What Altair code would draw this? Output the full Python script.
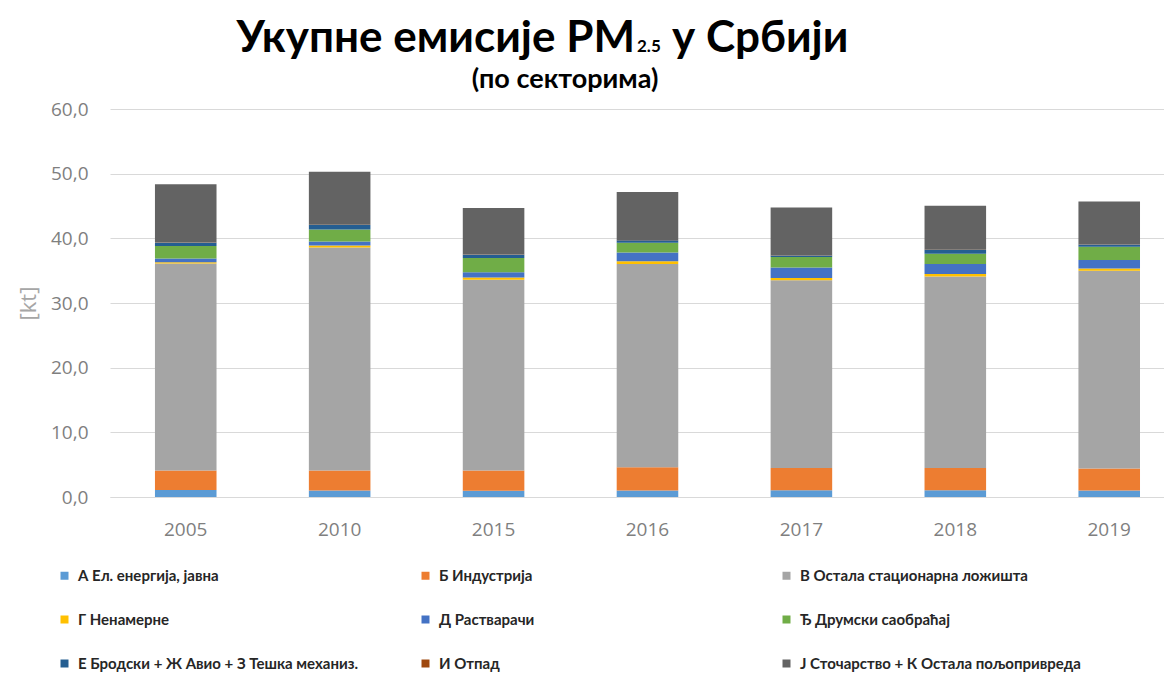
import altair as alt
import pandas as pd

years = ["2005", "2010", "2015", "2016", "2017", "2018", "2019"]
sectors = [
    "А Ел. енергија, јавна",
    "Б Индустрија",
    "В Остала стационарна ложишта",
    "Г Ненамерне",
    "Д Растварачи",
    "Ђ Друмски саобраћај",
    "Е Бродски + Ж Авио + З Тешка механиз.",
    "И Отпад",
    "Ј Сточарство + К Остала пољопривреда",
]
colors = ["#5B9BD5", "#ED7D31", "#A5A5A5", "#FFC000", "#4472C4",
          "#70AD47", "#255E91", "#9E480E", "#636363"]

v_A = [1.10, 1.00, 0.95, 1.00, 1.05, 1.05, 1.00]
v_B = [3.00, 3.10, 3.15, 3.60, 3.45, 3.45, 3.40]
v_V = [32.00, 34.50, 29.50, 31.45, 29.00, 29.60, 30.60]
v_G = [0.20, 0.30, 0.35, 0.40, 0.35, 0.40, 0.35]
v_D = [0.60, 0.60, 0.80, 1.35, 1.65, 1.55, 1.30]
v_DJ = [1.90, 1.85, 2.20, 1.50, 1.60, 1.55, 2.05]
v_E = [0.50, 0.70, 0.50, 0.40, 0.25, 0.60, 0.35]
v_I = [0.05, 0.05, 0.05, 0.05, 0.05, 0.05, 0.05]
v_J = [9.00, 8.20, 7.20, 7.40, 7.35, 6.80, 6.60]

series = [v_A, v_B, v_V, v_G, v_D, v_DJ, v_E, v_I, v_J]

title_main = "Укупне емисије PM"
title_sub = "2.5"
title_end = "у Србији"
subtitle = "(по секторима)"
y_title = "[kt]"

rows = []
for si, (name, vals) in enumerate(zip(sectors, series)):
    for yr, v in zip(years, vals):
        rows.append({"year": yr, "sector": name, "value": v, "idx": si})
df = pd.DataFrame(rows)

bars = alt.Chart(df).mark_bar().encode(
    x=alt.X("year:N", sort=years, title=None,
            scale=alt.Scale(paddingInner=0.6, paddingOuter=0.224, align=0.652),
            axis=alt.Axis(labelAngle=0, labelFontSize=19, labelFont="Open Sans",
                          labelColor="#7F7F7F", labelPadding=23, ticks=False,
                          domainColor="#D9D9D9", domainWidth=1.2, grid=False)),
    y=alt.Y("value:Q", stack="zero", title=y_title,
            scale=alt.Scale(domain=[0, 60], nice=False),
            axis=alt.Axis(values=[0, 10, 20, 30, 40, 50, 60],
                          labelExpr="replace(format(datum.value, '.1f'), '.', ',')",
                          labelFontSize=19, labelFont="Open Sans", labelColor="#7F7F7F",
                          labelPadding=22, ticks=False, domain=False,
                          gridColor="#D9D9D9", gridWidth=1.2,
                          titleFontSize=22, titleFont="Open Sans", titleFontWeight="normal",
                          titleColor="#A6A6A6", titlePadding=10)),
    color=alt.Color("sector:N", sort=sectors,
                    scale=alt.Scale(domain=sectors, range=colors),
                    legend=alt.Legend(orient="none", legendX=-53, legendY=459,
                                      direction="horizontal",
                                      columns=3, gridAlign="all", columnPadding=59,
                                      rowPadding=28, title=None, symbolType="square",
                                      symbolSize=64, symbolStrokeWidth=0,
                                      labelFont="Lato", labelFontSize=15,
                                      labelFontWeight="bold", labelColor="#262626",
                                      labelOffset=6, labelLimit=400)),
    order=alt.Order("idx:Q", sort="ascending"),
)

def txt(s, x, y, size, align, weight="bold"):
    return alt.Chart(pd.DataFrame({"t": [s]})).mark_text(
        font="Lato", fontSize=size, fontWeight=weight, align=align,
        baseline="alphabetic", color="#000000"
    ).encode(text="t:N", x=alt.value(x), y=alt.value(y))

t1 = txt(title_main, 525, -57, 44, "right")
t2 = txt(title_sub, 527, -57, 17, "left")
t3 = txt(title_end, 562, -57, 44, "left")
t4 = txt(subtitle, 455, -21, 27, "center")

chart = alt.layer(bars, t1, t2, t3, t4).properties(
    width=1054, height=388,
    autosize=alt.AutoSizeParams(type="none"),
    padding={"left": 102, "top": 101, "right": 0, "bottom": 176},
    background="white",
).configure_view(stroke=None)

chart.save("out.html", embed_options={"renderer": "svg", "actions": False})
